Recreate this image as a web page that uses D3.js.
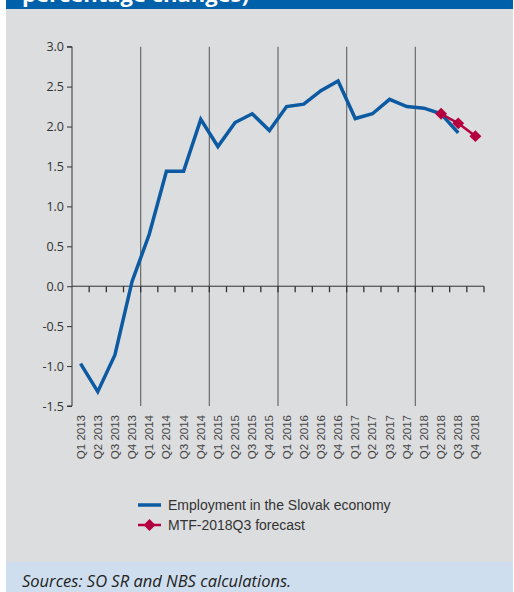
<!DOCTYPE html>
<html>
<head>
<meta charset="utf-8">
<script src="https://cdn.jsdelivr.net/npm/d3@7"></script>
<style>
  body { margin: 0; background: #fff; }
  svg { display: block; }
</style>
</head>
<body>
<script>
// quarters Q1 2013 .. Q4 2018
const years = [2013, 2014, 2015, 2016, 2017, 2018];
const quarters = years.flatMap(y => [1, 2, 3, 4].map(q => `Q${q} ${y}`));

// employment growth, Q1 2013 .. Q3 2018
const employment = [-0.97, -1.32, -0.86, 0.06, 0.65, 1.44, 1.44, 2.09,
  1.75, 2.05, 2.16, 1.95, 2.25, 2.28, 2.45, 2.57,
  2.10, 2.16, 2.34, 2.25, 2.23, 2.16, 1.92];
// MTF-2018Q3 forecast, Q2 2018 .. Q4 2018
const forecastQ = ["Q2 2018", "Q3 2018", "Q4 2018"];
const forecast = [2.16, 2.04, 1.88];
const yTicks = [3.0, 2.5, 2.0, 1.5, 1.0, 0.5, 0.0, -0.5, -1.0, -1.5];

const W = 514, H = 592;
const dims = { l: 72, r: 484, t: 46.7, b: 406 };
const blue = "#0b5aa2", red = "#b4003f";

const svg = d3.select("body").append("svg")
  .attr("width", W).attr("height", H);

// panels
svg.append("rect").attr("x", 6).attr("y", 0).attr("width", 507).attr("height", 562).attr("fill", "#dcdddf");
svg.append("rect").attr("x", 6).attr("y", 0).attr("width", 507).attr("height", 9).attr("fill", "#0061ab");
svg.append("text").attr("x", 22).attr("y", 2)
  .attr("font-family", "'Open Sans', sans-serif").attr("font-weight", "bold")
  .attr("font-size", 22).attr("fill", "#fff")
  .text("percentage changes)");
svg.append("rect").attr("x", 6).attr("y", 562).attr("width", 507).attr("height", 30).attr("fill", "#cfdeee");
svg.append("text").attr("x", 22).attr("y", 587)
  .attr("font-family", "'Liberation Sans Narrow', 'Open Sans', sans-serif")
  .attr("font-style", "italic").attr("font-size", 16.5).attr("fill", "#222")
  .text("Sources: SO SR and NBS calculations.");

const x = d3.scaleBand().domain(quarters).range([dims.l, dims.r]);
const y = d3.scaleLinear().domain([-1.5, 3.0]).range([dims.b, dims.t]);
const cx = d => x(d) + x.bandwidth() / 2;

// year separator lines
const yearStarts = years.slice(1).map(yr => `Q1 ${yr}`);
svg.append("g").selectAll("line").data(yearStarts).enter().append("line")
  .attr("x1", d => x(d)).attr("x2", d => x(d))
  .attr("y1", y(3.0)).attr("y2", y(-1.5))
  .attr("stroke", "#6b6b6b").attr("stroke-width", 1.2);

// y axis
const yAxis = svg.append("g").attr("transform", `translate(${dims.l},0)`)
  .call(d3.axisLeft(y).tickValues(yTicks).tickFormat(d3.format(".1f")).tickSize(5).tickPadding(3));
yAxis.select(".domain").attr("stroke", "#333").attr("d", `M-5,${y(3)}H0V${y(-1.5)}H-5`);
yAxis.selectAll(".tick line").attr("stroke", "#333");
yAxis.selectAll("text").attr("font-family", "'Open Sans', sans-serif").attr("font-size", 12.5).attr("fill", "#333")
  .text(d => d3.format(".1f")(d).replace("−", "-"));

// x axis on zero line
const xAxis = svg.append("g").attr("transform", `translate(0,${y(0)})`);
xAxis.append("line").attr("x1", dims.l).attr("x2", dims.r)
  .attr("stroke", "#333").attr("stroke-width", 1);
xAxis.selectAll("line.tk").data(quarters).enter().append("line").attr("class", "tk")
  .attr("x1", d => x(d) + x.bandwidth()).attr("x2", d => x(d) + x.bandwidth())
  .attr("y1", 0).attr("y2", 6).attr("stroke", "#333").attr("stroke-width", 1.3);

// rotated quarter labels
svg.append("g").selectAll("text").data(quarters).enter().append("text")
  .attr("transform", d => `translate(${cx(d) + 4},${y(-1.5) + 9}) rotate(-90)`)
  .attr("text-anchor", "end")
  .attr("font-family", "'Liberation Sans', Arial, sans-serif").attr("font-size", 11.5)
  .attr("fill", "#444")
  .text(d => d);

// employment line
const line = d3.line().x(d => cx(d[0])).y(d => y(d[1]));
svg.append("path")
  .datum(employment.map((v, i) => [quarters[i], v]))
  .attr("d", line).attr("fill", "none")
  .attr("stroke", blue).attr("stroke-width", 3.5).attr("stroke-linejoin", "miter");

// forecast line
const fc = forecast.map((v, i) => [forecastQ[i], v]);
svg.append("path").datum(fc).attr("d", line).attr("fill", "none")
  .attr("stroke", red).attr("stroke-width", 2.5);
const diamond = d3.symbol().type(d3.symbolDiamond2).size(90);
svg.append("g").selectAll("path").data(fc).enter().append("path")
  .attr("d", diamond)
  .attr("transform", d => `translate(${cx(d[0])},${y(d[1])})`)
  .attr("fill", red);

// legend
const legend = svg.append("g").attr("transform", "translate(138,505)");
legend.append("line").attr("x1", 0).attr("x2", 23).attr("y1", 0).attr("y2", 0)
  .attr("stroke", blue).attr("stroke-width", 3.5);
legend.append("line").attr("x1", 0).attr("x2", 23).attr("y1", 20).attr("y2", 20)
  .attr("stroke", red).attr("stroke-width", 2.5);
legend.append("path").attr("d", diamond).attr("transform", "translate(11.5,20)").attr("fill", red);
legend.selectAll("text").data(["Employment in the Slovak economy", "MTF-2018Q3 forecast"])
  .enter().append("text")
  .attr("x", 30).attr("y", (d, i) => i * 20 + 5)
  .attr("font-family", "'Liberation Sans', Arial, sans-serif").attr("font-size", 14)
  .attr("fill", "#333")
  .text(d => d);
</script>
</body>
</html>
